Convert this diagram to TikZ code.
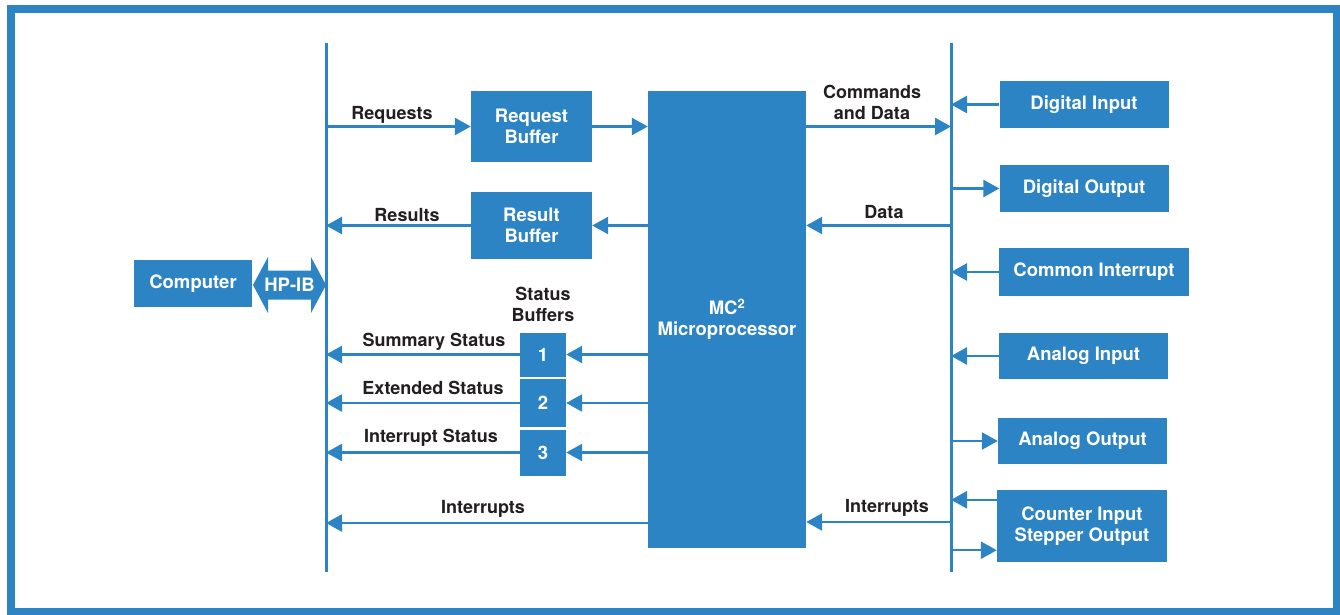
\documentclass[tikz,border=0pt]{standalone}
\usepackage{fontspec}
\setmainfont{TeX Gyre Heros}
\usetikzlibrary{arrows.meta,calc}
\definecolor{hpblue}{RGB}{44,132,196}
\definecolor{ink}{RGB}{35,31,32}
\tikzset{
  box/.style={fill=hpblue, draw=none, text=white, inner sep=0pt, align=center,
    font=\fontsize{18.5}{21}\selectfont\bfseries},
  lbl/.style={text=ink, inner sep=0pt, align=center,
    font=\fontsize{18}{21}\selectfont\bfseries},
  bus/.style={draw=hpblue, line width=3pt},
  arr/.style={draw=hpblue, line width=2.5pt, -{Triangle[length=16pt,width=17pt]}},
}
\begin{document}
\begin{tikzpicture}[x=1pt,y=-1pt]
\useasboundingbox (0,0) rectangle (1340,614);
% frame
\fill[hpblue] (7,5) rectangle (1345,620);
\fill[white] (15,13) rectangle (1333,608);
% buses
\coordinate (lbt) at (326,43);
\coordinate (lbb) at (326,572);
\coordinate (rbt) at (951,43);
\coordinate (rbb) at (951,572);
\draw[bus] (lbt) -- (lbb);
\draw[bus] (rbt) -- (rbb);
% nodes
\node[box, minimum width=118pt, minimum height=47pt] (comp) at (193,283.5) {Computer};
\node[box, minimum width=121pt, minimum height=71pt] (reqbuf) at (531.5,126.5) {Request\\Buffer};
\node[box, minimum width=121pt, minimum height=67pt] (resbuf) at (531.5,225.5) {Result\\Buffer};
\node[box, minimum width=158pt, minimum height=457pt] (mc) at (727,319.5) {MC\textsuperscript{2}\\Microprocessor};
\node[box, minimum width=46pt, minimum height=44pt] (s1) at (543,354.5) {1};
\node[box, minimum width=46pt, minimum height=48pt] (s2) at (543,403) {2};
\node[box, minimum width=46pt, minimum height=46pt] (s3) at (543,452.5) {3};
\node[box, minimum width=169pt, minimum height=47pt] (di) at (1084,104.5) {Digital Input};
\node[box, minimum width=169pt, minimum height=47pt] (do) at (1084,188.5) {Digital Output};
\node[box, minimum width=190pt, minimum height=48pt] (ci) at (1094,272) {Common Interrupt};
\node[box, minimum width=169pt, minimum height=46pt] (ai) at (1083.5,356) {Analog Input};
\node[box, minimum width=169pt, minimum height=46pt] (ao) at (1082.5,441) {Analog Output};
\node[box, minimum width=170pt, minimum height=72pt] (cs) at (1082,526) {Counter Input\\Stepper Output};
% HP-IB double arrow
\coordinate (hpl) at (253,285);
\coordinate (hpr) at (326,285);
\fill[hpblue] (hpl) -- ++(15,-28) -- ++(0,13.5) -- ++(43,0) -- ++(0,-13.5)
  -- (hpr) -- ++(-15,28) -- ++(0,-13.5) -- ++(-43,0) -- ++(0,13.5) -- cycle;
\node[box, fill=none] (hpib) at ($(hpl)!0.5!(hpr)$) {HP-IB};
% left side connectors
\draw[arr] (reqbuf.west -| lbt) -- (reqbuf.west);
\draw[arr] (reqbuf.east) -- (reqbuf.east -| mc.west);
\draw[arr] (resbuf.east -| mc.west) -- (resbuf.east);
\draw[arr] (resbuf.west) -- (resbuf.west -| lbt);
\draw[arr] (s1.east -| mc.west) -- (s1.east);
\draw[arr] (s1.west) -- (s1.west -| lbt);
\draw[arr] (s2.east -| mc.west) -- (s2.east);
\draw[arr] (s2.west) -- (s2.west -| lbt);
\draw[arr] (s3.east -| mc.west) -- (s3.east);
\draw[arr] (s3.west) -- (s3.west -| lbt);
\coordinate (intl) at (326,523);
\draw[arr] (intl -| mc.west) -- (intl);
% right side connectors
\draw[arr] (reqbuf.east -| mc.east) -- (reqbuf.east -| rbt);
\draw[arr] (resbuf.east -| rbt) -- (resbuf.east -| mc.east);
\coordinate (intr) at (951,522);
\draw[arr] (intr) -- (intr -| mc.east);
\draw[arr] (di.west) -- (di.west -| rbt);
\draw[arr] (do.west -| rbt) -- (do.west);
\draw[arr] (ci.west) -- (ci.west -| rbt);
\draw[arr] (ai.west) -- (ai.west -| rbt);
\draw[arr] (ao.west -| rbt) -- (ao.west);
\draw[arr] ([yshift=-10pt]cs.north west) -- ([yshift=-10pt]cs.north west -| rbt);
\draw[arr] ([yshift=12pt]cs.south west -| rbt) -- ([yshift=12pt]cs.south west);
% labels
\node[lbl] at (392,115) {Requests};
\node[lbl] at (407,215) {Results};
\node[lbl] at (543,304) {Status\\Buffers};
\node[lbl] at (434,342) {Summary Status};
\node[lbl] at (433,388) {Extended Status};
\node[lbl] at (431,438) {Interrupt Status};
\node[lbl] at (483,509) {Interrupts};
\node[lbl] at (872,102) {Commands\\and Data};
\node[lbl] at (884,212) {Data};
\node[lbl] at (887,508) {Interrupts};
\end{tikzpicture}
\end{document}
